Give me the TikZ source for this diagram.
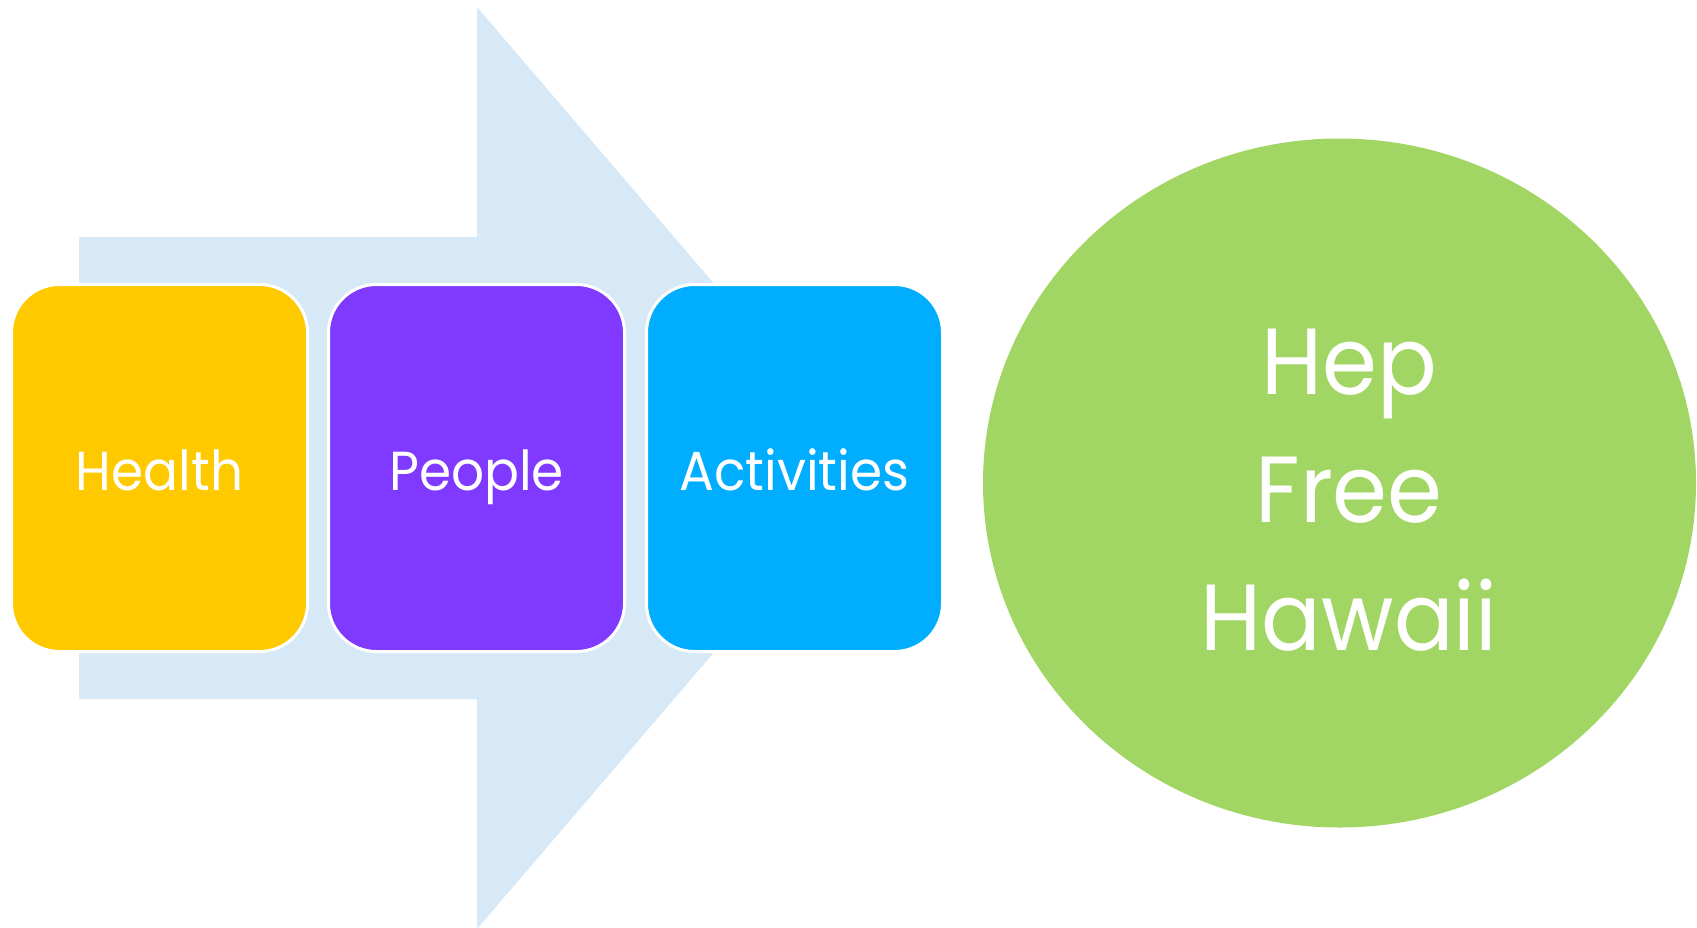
\documentclass[tikz,border=0pt]{standalone}
\usepackage{fontspec}
\setmainfont{Poppins}
\newfontfamily\narrowpop[FakeStretch=0.94]{Poppins}
\definecolor{arrowblue}{RGB}{215,233,246}
\definecolor{cyellow}{RGB}{255,201,0}
\definecolor{cpurple}{RGB}{128,57,255}
\definecolor{cblue}{RGB}{0,173,255}
\definecolor{cgreen}{RGB}{162,214,100}
\usetikzlibrary{shapes.geometric}
\tikzset{
  stepbox/.style={rectangle, rounded corners=48pt, draw=white, line width=3pt,
    minimum width=296pt, minimum height=367pt, inner sep=0pt},
  steplabel/.style={anchor=base, inner sep=0pt, text=white,
    font=\narrowpop\fontsize{55}{66}\selectfont},
  goalnode/.style={ellipse, fill=cgreen, minimum width=713pt, minimum height=689pt,
    inner sep=0pt}
}
\begin{document}
\begin{tikzpicture}[x=1pt,y=-1pt]
\useasboundingbox (0,0) rectangle (1697,927);
\fill[arrowblue] (79,237) -- (477,237) -- (477,7) -- (872,468) -- (477,929) -- (477,699) -- (79,699) -- cycle;
\node[stepbox, fill=cyellow] (health) at (159.5,468) {};
\node[stepbox, fill=cpurple] (people) at (476.5,468) {};
\node[stepbox, fill=cblue] (activities) at (794.5,468) {};
\node[steplabel] (healthtext) at (159.5,490) {Health};
\node[steplabel] (peopletext) at (476.5,490) {People};
\node[steplabel] (activitiestext) at (794.5,490) {Activities};
\node[goalnode] (goal) at (1339.5,483) {};
\node[text=white, align=center, font=\narrowpop\fontsize{94}{128}\selectfont] (goaltext) at (1349,490) {Hep\\Free\\Hawaii};
\end{tikzpicture}
\end{document}
